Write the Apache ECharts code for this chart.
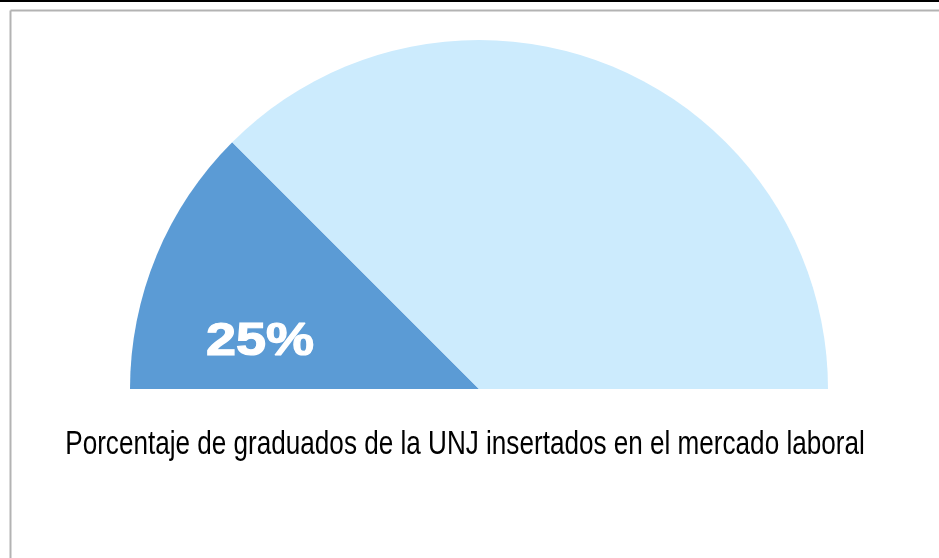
<!DOCTYPE html>
<html><head><meta charset="utf-8">
<script src="https://cdn.jsdelivr.net/npm/echarts@6/dist/echarts.min.js"></script>
<style>html,body{margin:0;padding:0;background:#fff;}#c{width:939px;height:558px;}</style>
</head><body><div id="c"></div>
<script>
const categories = ['Insertados', 'No insertados'];
const values = [25, 75];
const colors = ['#5B9BD5', '#CCEBFD'];
const titleText = 'Porcentaje de graduados de la UNJ insertados en el mercado laboral';

const chart = echarts.init(document.getElementById('c'), null, {renderer: 'canvas'});
chart.setOption({
  animation: false,
  backgroundColor: '#fff',
  graphic: [
    {type: 'rect', shape: {x: 0, y: 0, width: 939, height: 2}, style: {fill: '#000'}, silent: true},
    {type: 'line', shape: {x1: 10.5, y1: 10.5, x2: 939, y2: 10.5}, style: {stroke: '#b3b3b3', lineWidth: 2}, silent: true},
    {type: 'line', shape: {x1: 10.5, y1: 10.5, x2: 10.5, y2: 558}, style: {stroke: '#b3b3b3', lineWidth: 2}, silent: true},
    {type: 'text', x: 260, y: 342, scaleX: 1.15, style: {text: values[0] + '%', fill: '#fff', stroke: '#fff', lineWidth: 1.2, font: 'bold 47px "Liberation Sans", Arial, sans-serif', textAlign: 'center', textVerticalAlign: 'middle'}, z: 10, silent: true},
    {type: 'text', x: 465, y: 445, scaleX: 0.791, style: {text: titleText, fill: '#000', font: '33px "Liberation Sans", Arial, sans-serif', textAlign: 'center', textVerticalAlign: 'middle'}, z: 10, silent: true}
  ],
  series: [{
    type: 'pie',
    center: [479, 389],
    radius: [0, 349],
    startAngle: 180,
    endAngle: 0,
    clockwise: true,
    label: {show: false},
    labelLine: {show: false},
    itemStyle: {borderWidth: 0},
    data: categories.map((n, i) => ({name: n, value: values[i], itemStyle: {color: colors[i]}}))
  }]
});
</script></body></html>
